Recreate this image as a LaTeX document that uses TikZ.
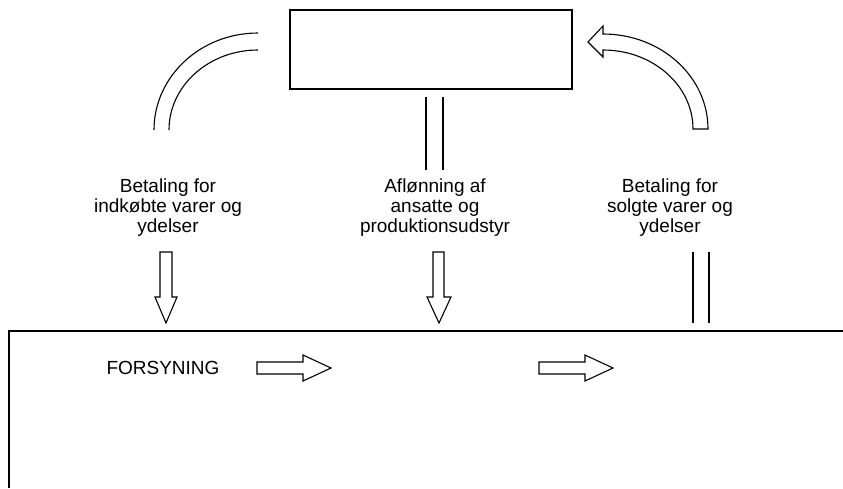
\documentclass[tikz,border=0pt]{standalone}
\usepackage{fontspec}
\setmainfont{Liberation Sans}
\begin{document}
\begin{tikzpicture}[x=1pt,y=-1pt,
  ln/.style={line width=1.1pt,black},
  thick ln/.style={line width=1.6pt,black},
  lbl/.style={align=center,inner sep=0pt,anchor=north,font=\fontsize{19}{20}\selectfont},
  bigarrow/.style={line width=1.1pt,black,fill=white,line join=miter}]
\useasboundingbox[fill=white] (0,0) rectangle (843,488);

% top box
\node[ln,draw,minimum width=282pt,minimum height=79pt,inner sep=0pt] (top) at (431,49.5) {};

% left double arc
\coordinate (la1) at (258,33);
\coordinate (la2) at (154,130);
\coordinate (lb1) at (258,50);
\coordinate (lb2) at (169,130);
\draw[ln] (la1) .. controls (200.6,33) and (154,76.4) .. (la2);
\draw[ln] (lb1) .. controls (208.8,50) and (169,85.8) .. (lb2);

% middle double lines
\coordinate (m1a) at (426,97); \coordinate (m1b) at (426,170);
\coordinate (m2a) at (443,97); \coordinate (m2b) at (443,170);
\draw[ln] (m1a) -- (m1b);
\draw[ln] (m2a) -- (m2b);

% right curved arrow
\draw[bigarrow] (693,129) .. controls (693,85.4) and (652.7,50) .. (603,50)
  -- (603,57) -- (588,42) -- (603,26) -- (603,34)
  .. controls (661,34) and (708,76.5) .. (708,129) -- cycle;

% labels
\node[lbl] (t1) at (168,179) {Betaling for\\indkøbte varer og\\ydelser};
\node[lbl] (t2) at (435,179) {Aflønning af\\ansatte og\\produktionsudstyr};
\node[lbl] (t3) at (670,179) {Betaling for\\solgte varer og\\ydelser};

% down arrows
\draw[bigarrow] (160,252) -- (172,252) -- (172,297) -- (177,297) -- (166,323)
  -- (155,297) -- (160,297) -- cycle;
\draw[bigarrow] (433,252) -- (444,252) -- (444,297) -- (451,297) -- (439,323)
  -- (427,297) -- (433,297) -- cycle;

% right double lines
\coordinate (r1a) at (693,252); \coordinate (r1b) at (693,323);
\coordinate (r2a) at (709,252); \coordinate (r2b) at (709,323);
\draw[ln] (r1a) -- (r1b);
\draw[ln] (r2a) -- (r2b);

% big lower box (open)
\coordinate (bR) at (843,331);
\coordinate (bL) at (9,331);
\coordinate (bB) at (9,488);
\draw[thick ln] (bR) -- (bL) -- (bB);

% inner content
\node[font=\fontsize{19}{21}\selectfont,inner sep=0pt] (fors) at (163,368) {FORSYNING};
\draw[bigarrow] (257,362) -- (303,362) -- (303,355) -- (331,368) -- (303,381)
  -- (303,374) -- (257,374) -- cycle;
\draw[bigarrow] (539,362) -- (585,362) -- (585,355) -- (613,368) -- (585,381)
  -- (585,374) -- (539,374) -- cycle;
\end{tikzpicture}
\end{document}
